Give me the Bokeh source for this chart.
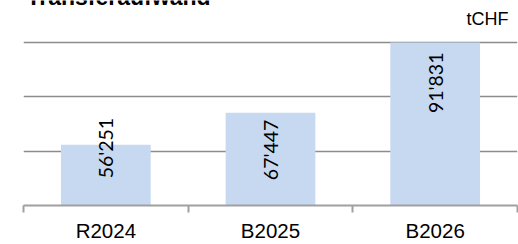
import math
from bokeh.plotting import figure
from bokeh.models import Range1d, FixedTicker, LinearAxis, Grid, Label, ColumnDataSource
from bokeh.core.properties import value
from bokeh.embed import file_html
from bokeh.resources import INLINE

# ---- data ----
categories = ["R2024", "B2025", "B2026"]
values = [56251, 67447, 91831]
value_labels = ["56'251", "67'447", "91'831"]
title_text = "Transferaufwand"
unit_text = "tCHF"

# ---- axis settings ----
y_min = 35150
y_step = 18900
grid_ticks = [y_min + y_step * k for k in range(1, 4)]

FRAME_W = 494
FRAME_H = 205            # frame reaches the top of the canvas (plot area itself is borderless)
PLOT_H = 163             # visible value area: from baseline to the top grid line
units_per_px = (grid_ticks[-1] - y_min) / PLOT_H
y_top = y_min + FRAME_H * units_per_px
x_per_px = len(categories) / FRAME_W

# label shift (px, downward) of the label's end relative to the bar top
label_shift = [-27, 7, 10]

xs = [i + 0.5 for i in range(len(categories))]
src = ColumnDataSource(dict(x=xs, top=values, label=value_labels, dy=label_shift))

p = figure(frame_width=FRAME_W, frame_height=FRAME_H, output_backend="svg", toolbar_location=None,
           x_range=Range1d(0, len(categories)), y_range=Range1d(y_min, y_top),
           x_axis_location=None, y_axis_location=None,
           min_border_left=23, min_border_right=1, min_border_top=0, min_border_bottom=0,
           margin=(0, -20, -30, 0))
p.center = []
p.outline_line_color = None
p.background_fill_color = "white"
p.border_fill_color = "white"

grid = Grid(dimension=1, ticker=FixedTicker(ticks=grid_ticks),
            grid_line_color="#8c8c8c", grid_line_width=1.5)
p.add_layout(grid)

p.vbar(x="x", top="top", bottom=y_min, width=0.545, source=src,
       fill_color="#c6d9f1", line_color=None)

p.text(x="x", y="top", text="label", y_offset="dy", angle=math.pi / 2,
       text_align="right", text_baseline="middle", text_font=value("Lato"),
       text_font_size="19.5px", text_color="#000000", source=src)

ax = LinearAxis(ticker=FixedTicker(ticks=xs, minor_ticks=list(range(len(categories) + 1))),
                major_label_overrides={x: c for x, c in zip(xs, categories)})
ax.axis_line_color = "#a0a0a0"
ax.axis_line_width = 2
ax.major_tick_line_color = None
ax.major_tick_out = 0
ax.major_tick_in = 0
ax.minor_tick_line_color = "#a0a0a0"
ax.minor_tick_line_width = 2
ax.minor_tick_out = 7
ax.minor_tick_in = 0
ax.major_label_standoff = 6
ax.major_label_text_font = "Liberation Sans"
ax.major_label_text_font_size = "20.5px"
ax.major_label_text_color = "#000000"
p.add_layout(ax, "below")

# title and unit labels, placed in data units (pixels converted through the frame scale)
p.add_layout(Label(x=3 * x_per_px, y=y_min + (FRAME_H + 4) * units_per_px, text=title_text,
                   text_font="Liberation Sans", text_font_style="bold",
                   text_font_size="23px", text_baseline="alphabetic", text_align="left",
                   text_color="#000000"))
p.add_layout(Label(x=485 * x_per_px, y=y_min + (FRAME_H - 18) * units_per_px, text=unit_text,
                   text_font="Liberation Sans", text_font_size="18px",
                   text_baseline="alphabetic", text_align="right", text_color="#000000"))

open("out.html", "w").write(file_html(p, INLINE))
